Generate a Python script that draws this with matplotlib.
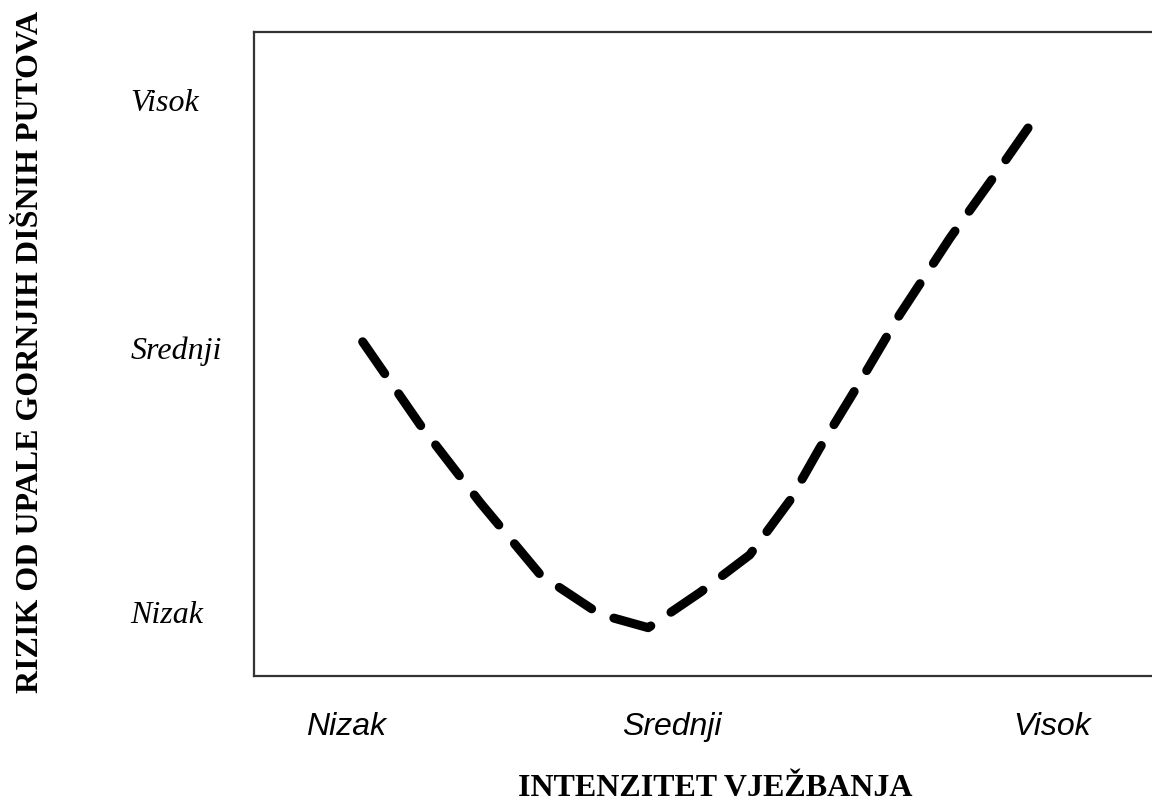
import numpy as np
import matplotlib
matplotlib.use("Agg")
import matplotlib.pyplot as plt

# Levels (shared by both axes)
x_levels = ["Nizak", "Srednji", "Visok"]
y_levels = ["Nizak", "Srednji", "Visok"]
x_tick_pos = [1.02, 4.65, 8.89]
y_tick_pos = [0.99, 5.09, 8.94]

# Risk curve (0-10 scale on both axes)
intensity = [1.21, 1.85, 2.52, 3.19, 3.85, 4.39, 4.97, 5.52, 5.97, 6.30, 6.75, 7.19, 7.75, 8.31, 8.62]
risk = [5.19, 3.90, 2.69, 1.57, 0.96, 0.75, 1.30, 1.88, 2.73, 3.54, 4.57, 5.61, 6.80, 7.89, 8.51]

fig = plt.figure(figsize=(11.52, 8.08), dpi=100)
ax = fig.add_axes([254 / 1152, 1 - 676 / 808, 1 - 254 / 1152, 644 / 808])

ax.plot(intensity, risk, color="black", linewidth=6.5, dashes=[4.3, 2.7],
        solid_capstyle="round", dash_capstyle="round")

ax.set_xlim(0, 10)
ax.set_ylim(0, 10)

ax.set_xticks(x_tick_pos)
ax.set_xticklabels(x_levels, fontfamily="Liberation Sans", fontstyle="italic", fontsize=23)
ax.set_yticks(y_tick_pos)
ax.set_yticklabels(y_levels, fontfamily="Liberation Serif", fontstyle="italic", fontsize=23)
for lab in ax.get_yticklabels():
    lab.set_horizontalalignment("left")

ax.tick_params(axis="y", length=0, pad=89)
ax.tick_params(axis="x", length=0, pad=26)

for side in ["left", "top", "bottom"]:
    ax.spines[side].set_linewidth(1.6)
    ax.spines[side].set_color("#333333")
ax.spines["right"].set_visible(False)

fig.text(31 / 1152, 1 - 352 / 808, "RIZIK OD UPALE GORNJIH DIŠNIH PUTOVA",
         rotation=90, ha="center", va="center", fontfamily="Liberation Serif",
         fontweight="bold", fontsize=23)
fig.text(715 / 1152, 1 - 789 / 808, "INTENZITET VJEŽBANJA",
         ha="center", va="center", fontfamily="Liberation Serif",
         fontweight="bold", fontsize=23)

fig.savefig("out.png", dpi=100)
